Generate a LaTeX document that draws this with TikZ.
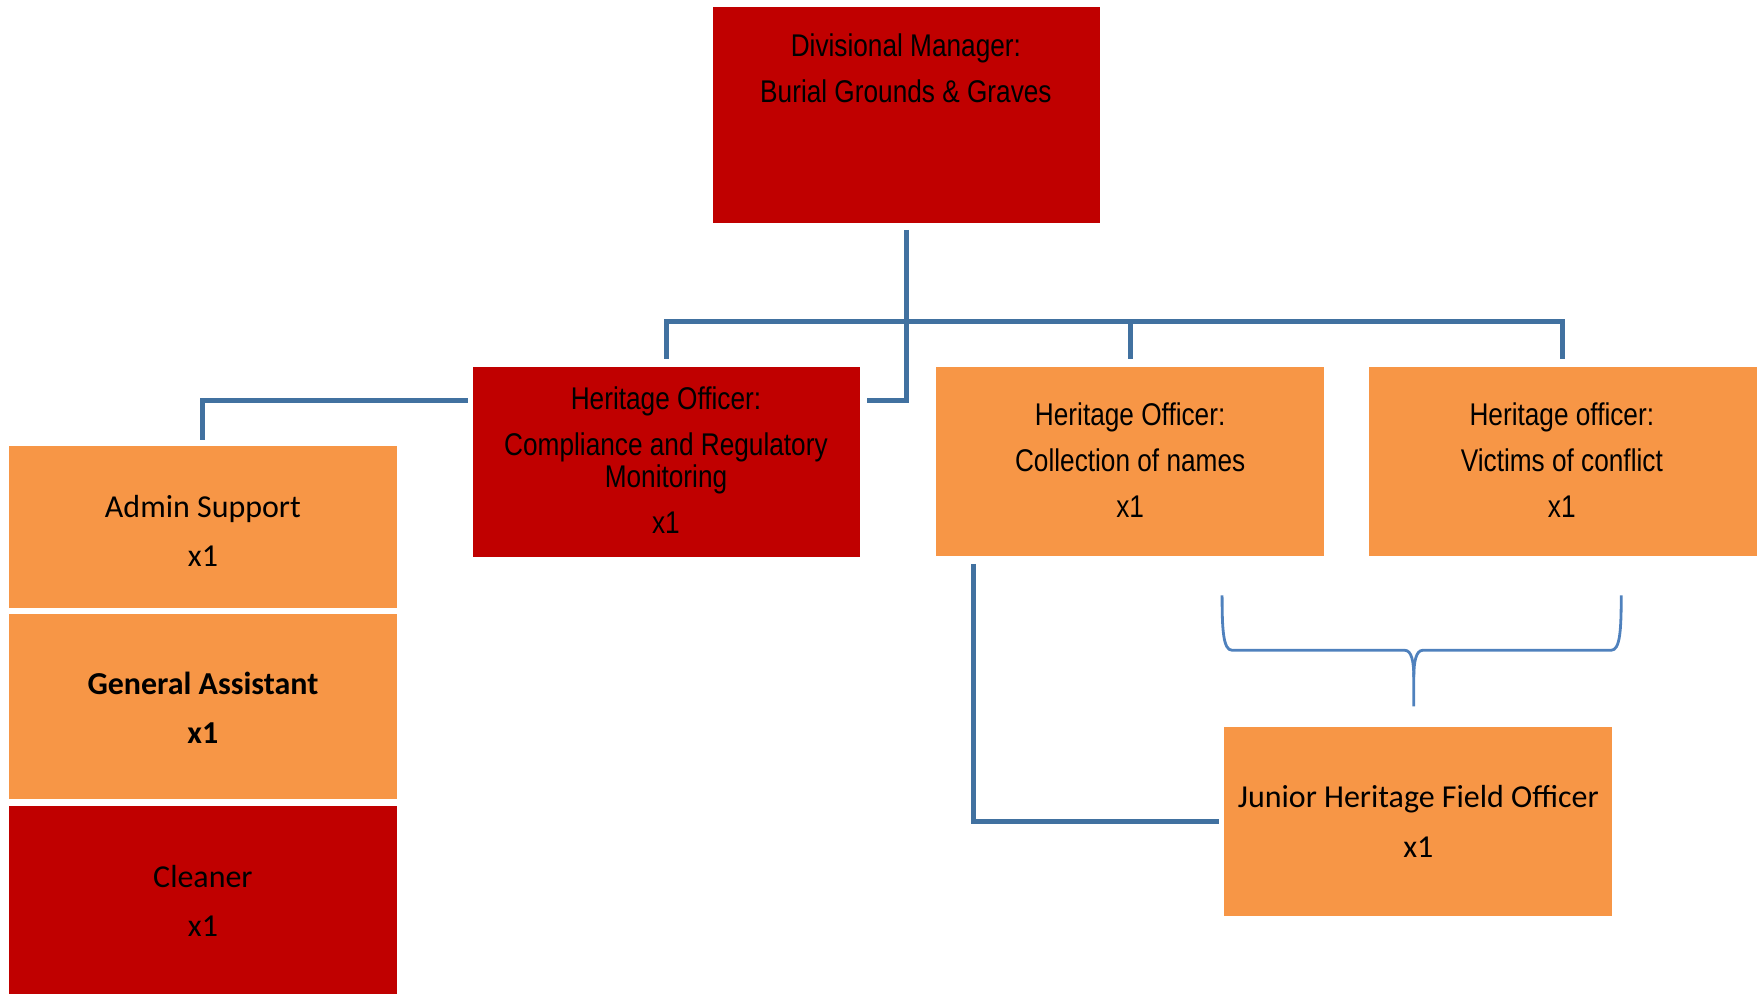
\documentclass[tikz,border=0pt]{standalone}
\usepackage{fontspec}
\setmainfont{Carlito}
\newfontfamily\narrowfont[FakeStretch=0.835]{Liberation Sans}
\definecolor{hred}{RGB}{192,0,0}
\definecolor{horange}{RGB}{247,150,70}
\definecolor{connblue}{RGB}{65,113,160}
\definecolor{braceblue}{RGB}{79,129,189}
\tikzset{
  box/.style={rectangle, inner sep=0pt, outer sep=0pt, minimum width=346pt},
  redbox/.style={box, fill=hred},
  orbox/.style={box, fill=horange},
  conn/.style={draw=connblue, line width=4.5pt},
  bracepath/.style={draw=braceblue, line width=2.5pt},
  ntext/.style={font=\narrowfont\fontsize{28}{41}\selectfont, align=center, inner sep=0pt},
  ctext/.style={font=\fontsize{28.5}{44}\selectfont, align=center, inner sep=0pt},
}
\begin{document}
\begin{tikzpicture}[x=1pt,y=-1pt]
\useasboundingbox (0,0) rectangle (1568,887);
% boxes
\node[redbox, minimum width=345pt, minimum height=193pt] (dm) at (808.5,102.5) {};
\node[redbox, minimum width=345pt, minimum height=170pt] (comp) at (594.5,412) {};
\node[orbox, minimum height=169pt] (coll) at (1008,411.5) {};
\node[orbox, minimum height=169pt] (vict) at (1394,411.5) {};
\node[orbox, minimum height=144pt] (admin) at (181,470) {};
\node[orbox, minimum height=165pt] (gen) at (181,630.5) {};
\node[redbox, minimum height=168pt] (clean) at (181,803) {};
\node[orbox, minimum height=169pt] (jun) at (1265,732.5) {};
% texts
\node[ntext] (dmt) at (808,60.5) {Divisional Manager:\\Burial Grounds \& Graves};
\node[ntext] (compt) at (594,410.5) {Heritage Officer:\\Compliance and Regulatory\\[-13pt]Monitoring\\x1};
\node[ntext] (collt) at (1008,410) {Heritage Officer:\\Collection of names\\x1};
\node[ntext] (victt) at (1393,410) {Heritage officer:\\Victims of conflict\\x1};
\node[ctext] (admint) at (181,473.5) {Admin Support\\x1};
\node[ctext, font=\bfseries\fontsize{28.5}{44}\selectfont] (gent) at (181,631.5) {General Assistant\\x1};
\node[ctext] (cleant) at (181,803.5) {Cleaner\\x1};
\node[ctext] (junt) at (1265,732.5) {Junior Heritage Field Officer\\x1};
% connectors
\coordinate (busy) at (0,287);
\coordinate (cj) at (773,357);
\coordinate (aj) at (417,357);
\draw[conn] ([yshift=-6pt]dm.south) |- (cj);
\draw[conn] ([yshift=7pt]comp.north) |- (busy -| vict.north) -- ([yshift=7pt]vict.north);
\draw[conn] (busy -| coll.north) -- ([yshift=7pt]coll.north);
\draw[conn] (aj) -| ([yshift=6pt]admin.north);
\draw[conn] ([xshift=33pt,yshift=-7pt]coll.south west) |- ([xshift=-5pt]jun.west);
% brace
\draw[bracepath] (1090,531) .. controls (1090,562) and (1091,580) .. (1099,580) -- (1253,580)
  .. controls (1259,580) and (1261,590) .. (1261,604) -- (1261,630);
\draw[bracepath] (1446,531) .. controls (1446,562) and (1445,580) .. (1437,580) -- (1269,580)
  .. controls (1263,580) and (1261,590) .. (1261,604);
\end{tikzpicture}
\end{document}
